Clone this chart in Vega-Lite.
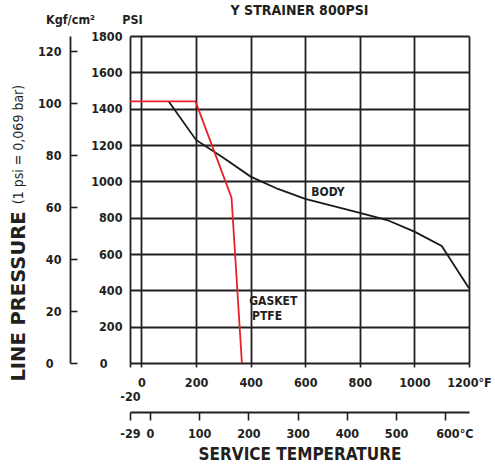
{
  "$schema": "https://vega.github.io/schema/vega-lite/v6.json",
  "width": 339,
  "height": 327,
  "autosize": {"type": "none"},
  "padding": {"left": 130, "top": 36, "right": 26, "bottom": 103},
  "background": "white",
  "config": {
    "view": {"stroke": null},
    "font": "'DejaVu Sans Condensed', 'DejaVu Sans', sans-serif",
    "axis": {
      "labelFont": "'DejaVu Sans Condensed', 'DejaVu Sans', sans-serif",
      "titleFont": "'DejaVu Sans Condensed', 'DejaVu Sans', sans-serif",
      "labelColor": "#231f20",
      "titleColor": "#231f20",
      "labelFontWeight": "bold",
      "titleFontWeight": "bold",
      "labelFontSize": 12.5,
      "titleFontSize": 12.5
    }
  },
  "title": {
    "text": "Y STRAINER 800PSI",
    "font": "'DejaVu Sans Condensed', 'DejaVu Sans', sans-serif",
    "fontSize": 14,
    "fontWeight": "bold",
    "color": "#231f20",
    "anchor": "middle",
    "offset": 0,
    "dy": 5,
    "frame": "group"
  },
  "datasets": {
    "curves": [
      {"series": "BODY", "F": 100, "psi": 1440},
      {"series": "BODY", "F": 200, "psi": 1228},
      {"series": "BODY", "F": 300, "psi": 1130},
      {"series": "BODY", "F": 400, "psi": 1026},
      {"series": "BODY", "F": 500, "psi": 958},
      {"series": "BODY", "F": 600, "psi": 903},
      {"series": "BODY", "F": 700, "psi": 865},
      {"series": "BODY", "F": 800, "psi": 827},
      {"series": "BODY", "F": 900, "psi": 787},
      {"series": "BODY", "F": 1000, "psi": 723},
      {"series": "BODY", "F": 1100, "psi": 644},
      {"series": "BODY", "F": 1200, "psi": 411},
      {"series": "GASKET PTFE", "F": -42, "psi": 1440},
      {"series": "GASKET PTFE", "F": 198, "psi": 1440},
      {"series": "GASKET PTFE", "F": 330, "psi": 910},
      {"series": "GASKET PTFE", "F": 368, "psi": 0}
    ],
    "labels": [
      {"text": "BODY", "F": 683, "psi": 944},
      {"text": "GASKET", "F": 483, "psi": 340},
      {"text": "PTFE", "F": 460, "psi": 257}
    ],
    "kgf": [{"k": 0}, {"k": 125.8}],
    "celsius": [{"c": -40.6}, {"c": 648.1}]
  },
  "layer": [
    {
      "data": {"name": "curves"},
      "mark": {"type": "line", "strokeWidth": 1.8},
      "encoding": {
        "x": {
          "field": "F",
          "type": "quantitative",
          "scale": {"domain": [-42, 1200], "nice": false, "zero": false},
          "axis": {
            "orient": "bottom",
            "values": [-42, 0, 200, 400, 600, 800, 1000, 1200],
            "format": "d",
            "labelExpr": "datum.value < -10 ? ['', '-20'] : datum.value == 1200 ? '1200°F' : datum.label",
            "grid": true,
            "gridColor": "#231f20",
            "gridWidth": 1.8,
            "gridOpacity": 1,
            "domain": false,
            "ticks": true,
            "tickSize": 4,
            "tickColor": "#231f20",
            "tickWidth": 1.6,
            "labelPadding": 9,
            "labelFlush": false,
            "labelOverlap": false,
            "title": null
          }
        },
        "y": {
          "field": "psi",
          "type": "quantitative",
          "scale": {"domain": [0, 1800], "nice": false},
          "axis": {
            "orient": "left",
            "values": [0, 200, 400, 600, 800, 1000, 1200, 1400, 1600, 1800],
            "format": "d",
            "grid": true,
            "gridColor": "#231f20",
            "gridWidth": 1.8,
            "gridOpacity": 1,
            "domain": false,
            "ticks": false,
            "labelPadding": {"condition": {"test": "datum.value == 0", "value": 23}, "value": 8},
            "labelFlush": false,
            "labelOverlap": false,
            "title": "PSI",
            "titleAngle": 0,
            "titleX": 2,
            "titleY": -17,
            "titleAlign": "center",
            "titleBaseline": "middle"
          }
        },
        "color": {
          "field": "series",
          "type": "nominal",
          "scale": {"domain": ["BODY", "GASKET PTFE"], "range": ["#1a1a1a", "#e8202a"]},
          "legend": null
        }
      }
    },
    {
      "data": {"name": "labels"},
      "mark": {"type": "text", "fontWeight": "bold", "fontSize": 12, "baseline": "middle", "align": "center", "color": "#231f20"},
      "encoding": {
        "x": {"field": "F", "type": "quantitative", "scale": {"domain": [-42, 1200], "nice": false, "zero": false}, "axis": null},
        "y": {"field": "psi", "type": "quantitative", "scale": {"domain": [0, 1800], "nice": false}, "axis": null},
        "text": {"field": "text"}
      }
    },
    {
      "data": {"name": "kgf"},
      "mark": {"type": "point", "opacity": 0},
      "encoding": {
        "y": {
          "field": "k",
          "type": "quantitative",
          "scale": {"domain": [0, 125.8], "nice": false},
          "axis": {
            "orient": "left",
            "offset": 60,
            "values": [0, 20, 40, 60, 80, 100, 120],
            "grid": false,
            "domain": true,
            "domainColor": "#231f20",
            "domainWidth": 1.8,
            "ticks": true,
            "tickSize": -7,
            "tickColor": "#231f20",
            "tickWidth": 1.6,
            "labelPadding": {"condition": {"test": "datum.value == 0", "value": 24}, "value": 16},
            "labelFlush": false,
            "labelOverlap": false,
            "title": "Kgf/cm²",
            "titleAngle": 0,
            "titleX": 0,
            "titleY": -17,
            "titleAlign": "center",
            "titleBaseline": "middle"
          }
        }
      }
    },
    {
      "data": {"name": "celsius"},
      "mark": {"type": "point", "opacity": 0},
      "encoding": {
        "x": {
          "field": "c",
          "type": "quantitative",
          "scale": {"domain": [-40.6, 648.1], "nice": false, "zero": false},
          "axis": {
            "orient": "bottom",
            "offset": 49,
            "values": [-40.6, 0, 100, 200, 300, 400, 500, 600],
            "format": "d",
            "labelExpr": "datum.value < -10 ? '-29' : datum.value == 600 ? '600°C' : datum.label",
            "labelOffset": {"condition": {"test": "datum.value == 600", "value": 9}, "value": 0},
            "grid": false,
            "domain": true,
            "domainColor": "#231f20",
            "domainWidth": 1.8,
            "ticks": true,
            "tickSize": 8,
            "tickColor": "#231f20",
            "tickWidth": 1.6,
            "labelPadding": 7,
            "labelFlush": false,
            "labelOverlap": false,
            "title": "SERVICE TEMPERATURE",
            "titleFontSize": 17,
            "titlePadding": 7
          }
        }
      }
    },
    {
      "data": {"name": "kgf"},
      "mark": {"type": "point", "opacity": 0},
      "encoding": {
        "y": {
          "field": "k",
          "type": "quantitative",
          "scale": {"domain": [0, 125.8], "nice": false},
          "axis": {
            "orient": "left",
            "offset": 0,
            "labels": false,
            "ticks": false,
            "domain": false,
            "grid": false,
            "title": "LINE PRESSURE",
            "titleFont": "'DejaVu Sans', sans-serif",
            "titleFontSize": 19.5,
            "titleAngle": -90,
            "titleX": -112,
            "titleY": 260,
            "titleAlign": "center",
            "titleBaseline": "middle"
          }
        }
      }
    },
    {
      "data": {"name": "kgf"},
      "mark": {"type": "point", "opacity": 0},
      "encoding": {
        "y": {
          "field": "k",
          "type": "quantitative",
          "scale": {"domain": [0, 125.8], "nice": false},
          "axis": {
            "orient": "left",
            "offset": 0,
            "labels": false,
            "ticks": false,
            "domain": false,
            "grid": false,
            "title": "(1 psi = 0,069 bar)",
            "titleFontSize": 14,
            "titleFontWeight": "normal",
            "titleAngle": -90,
            "titleX": -112,
            "titleY": 108,
            "titleAlign": "center",
            "titleBaseline": "middle"
          }
        }
      }
    }
  ],
  "resolve": {"scale": {"x": "independent", "y": "independent"}}
}
